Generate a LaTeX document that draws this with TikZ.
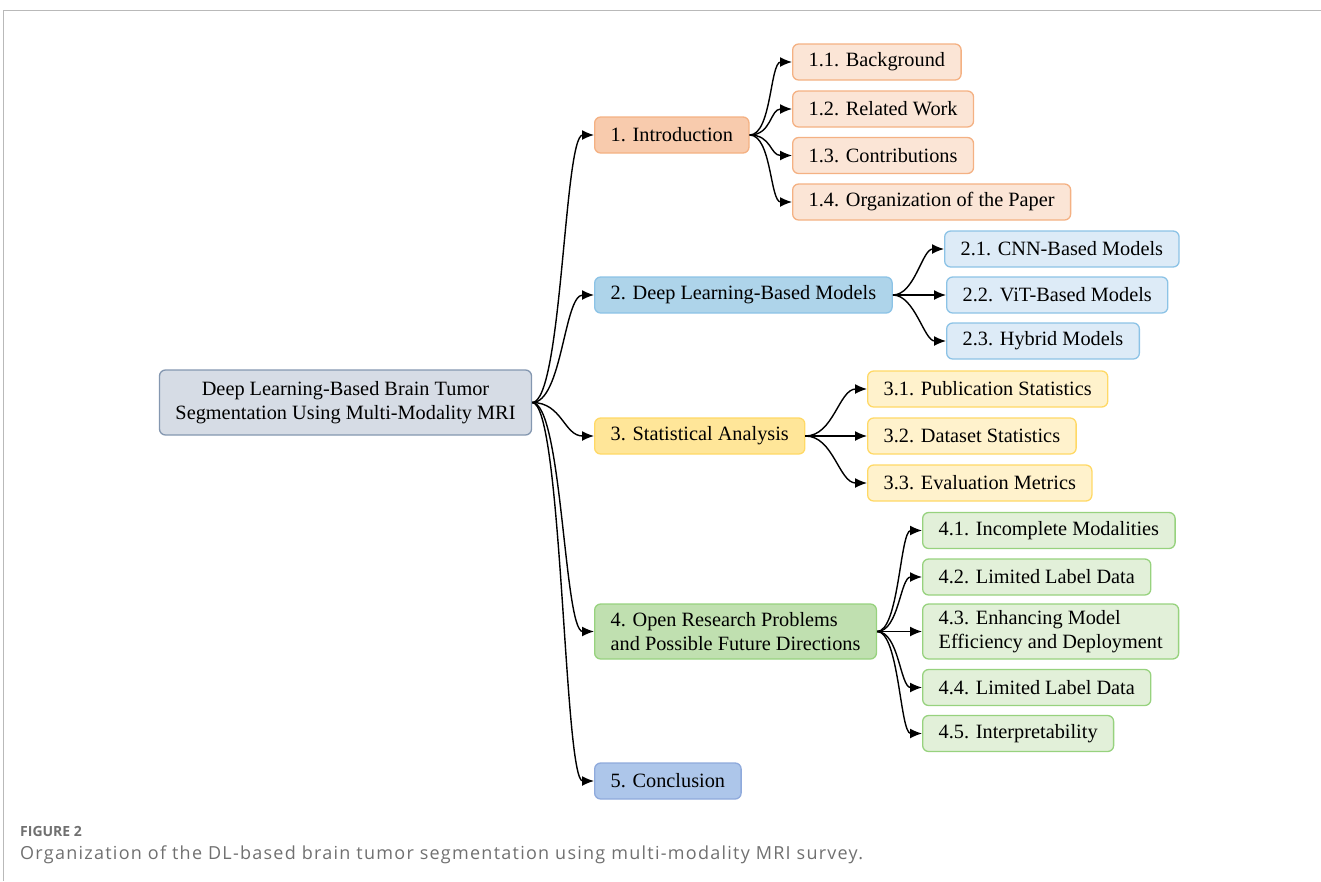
\documentclass[tikz,border=0pt]{standalone}
\usepackage{fontspec}
\setmainfont{Liberation Serif}
\newfontfamily\capfont{Open Sans}
\newfontfamily\capwide[LetterSpace=7]{Open Sans}
\usepackage{xcolor}
\usetikzlibrary{arrows.meta}
\definecolor{rootfill}{HTML}{D6DCE5}
\definecolor{rootline}{HTML}{8497B0}
\definecolor{orfill}{HTML}{F8CBAD}
\definecolor{orlight}{HTML}{FBE5D6}
\definecolor{orline}{HTML}{F4B183}
\definecolor{blfill}{HTML}{AED4EA}
\definecolor{bllight}{HTML}{DDEBF7}
\definecolor{blline}{HTML}{8CC3E6}
\definecolor{yefill}{HTML}{FFE699}
\definecolor{yelight}{HTML}{FFF2CC}
\definecolor{yeline}{HTML}{FFD966}
\definecolor{grfill}{HTML}{C0E0B0}
\definecolor{grlight}{HTML}{E2F0D9}
\definecolor{grline}{HTML}{97D27E}
\definecolor{cofill}{HTML}{ADC6EA}
\definecolor{coline}{HTML}{8FAADC}
\definecolor{capgray}{HTML}{707070}
\tikzset{
box/.style={draw, rounded corners=6pt, line width=1.3pt, minimum height=36pt,
  inner xsep=16pt, inner ysep=4pt, font=\fontsize{20.3}{24}\selectfont,
  align=left, anchor=west},
rootbox/.style={box, fill=rootfill, draw=rootline, align=center, anchor=center, minimum height=65pt},
orbox/.style={box, fill=orfill, draw=orline},
orsub/.style={box, fill=orlight, draw=orline},
blbox/.style={box, fill=blfill, draw=blline},
blsub/.style={box, fill=bllight, draw=blline},
yebox/.style={box, fill=yefill, draw=yeline},
yesub/.style={box, fill=yelight, draw=yeline},
grbox/.style={box, fill=grfill, draw=grline},
grsub/.style={box, fill=grlight, draw=grline},
cobox/.style={box, fill=cofill, draw=coline},
link/.style={-{Latex[length=12pt,width=10pt]}, line width=1.4pt, out=0, in=180,
  out distance=#1, in distance=#1},
link/.default=22pt
}

\begin{document}
\begin{tikzpicture}[x=1pt,y=-1pt]
	\useasboundingbox (0,0) rectangle (1321,881);
	\draw[gray!55, line width=1pt] (3,881) -- (3,10) -- (1321,10);

	% root
	\node[rootbox] (root) at (345.5,402.5) {Deep Learning-Based Brain Tumor\\Segmentation Using Multi-Modality MRI};

	% sections
	\node[orbox] (s1) at (594,135) {1. Introduction};
	\node[blbox] (s2) at (594,295) {2. Deep Learning-Based Models};
	\node[yebox] (s3) at (594,436) {3. Statistical Analysis};
	\node[grbox, minimum height=55pt] (s4) at (594,631.5) {4. Open Research Problems\\and Possible Future Directions};
	\node[cobox] (s5) at (594,781) {5. Conclusion};

	% subsections
	\node[orsub] (s11) at (792,62) {1.1. Background};
	\node[orsub] (s12) at (792,109) {1.2. Related Work};
	\node[orsub] (s13) at (792,155.5) {1.3. Contributions};
	\node[orsub] (s14) at (792,202) {1.4. Organization of the Paper};

	\node[blsub] (s21) at (944,249) {2.1. CNN-Based Models};
	\node[blsub] (s22) at (946,295) {2.2. ViT-Based Models};
	\node[blsub] (s23) at (946,341) {2.3. Hybrid Models};

	\node[yesub] (s31) at (867,389) {3.1. Publication Statistics};
	\node[yesub] (s32) at (867,436) {3.2. Dataset Statistics};
	\node[yesub] (s33) at (867,483) {3.3. Evaluation Metrics};

	\node[grsub] (s41) at (922,530.5) {4.1. Incomplete Modalities};
	\node[grsub] (s42) at (922,577) {4.2. Limited Label Data};
	\node[grsub, minimum height=55pt] (s43) at (922,631.5) {4.3. Enhancing Model\\Efficiency and Deployment};
	\node[grsub] (s44) at (922,687.5) {4.4. Limited Label Data};
	\node[grsub] (s45) at (922,733.5) {4.5. Interpretability};

	% connectors
	\foreach \c in {s1,s2,s3,s4,s5}
		\draw[link=30pt] (root.east) to (\c.west);
	\foreach \c in {s11,s12,s13,s14}
		\draw[link] (s1.east) to (\c.west);
	\foreach \c in {s21,s22,s23}
		\draw[link] (s2.east) to (\c.west);
	\foreach \c in {s31,s32,s33}
		\draw[link=28pt] (s3.east) to (\c.west);
	\foreach \c in {s41,s42,s43,s44,s45}
		\draw[link] (s4.east) to (\c.west);

	% caption
	\node[anchor=base west, inner sep=0pt, text=capgray, font=\capfont\bfseries\fontsize{14}{16}\selectfont] (fig) at (20,836) {FIGURE 2};
	\node[anchor=base west, inner sep=0pt, text=capgray, font=\capwide\fontsize{18}{22}\selectfont] (cap) at (20,859) {Organization of the DL-based brain tumor segmentation using multi-modality MRI survey.};
\end{tikzpicture}
\end{document}
